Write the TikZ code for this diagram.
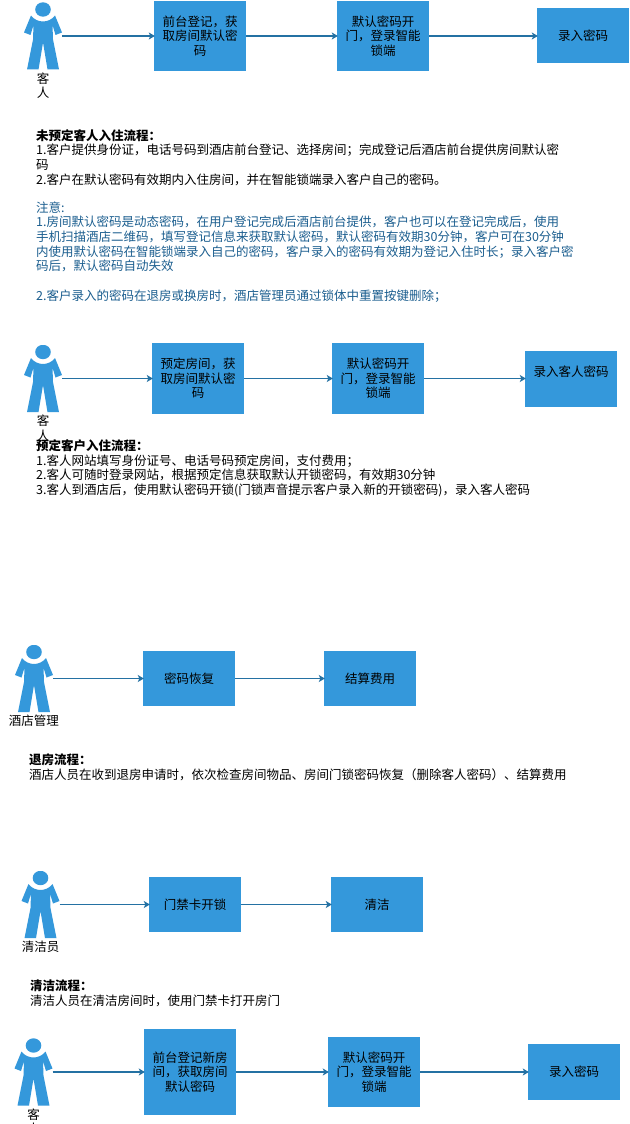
\documentclass[tikz,border=0pt]{standalone}
\usepackage{fontspec}
\setmainfont{Noto Sans CJK SC}
\usetikzlibrary{positioning,arrows.meta}
\definecolor{boxblue}{HTML}{3498DB}
\definecolor{linkblue}{HTML}{2471A3}
\definecolor{noteblue}{HTML}{1B5E8F}
\tikzset{
	flowbox/.style={fill=boxblue,inner sep=0pt,minimum width=92pt,align=center},
	flowlink/.style={-{Stealth[length=6pt,width=7pt,inset=1.5pt]},linkblue,line width=1.1pt,shorten >=-1pt},
	actor/.style={inner sep=0pt,minimum width=38pt,minimum height=67pt,path picture={
		\fill[boxblue] (0,-26.5) ellipse (7.8 and 7.2);
		\fill[boxblue] (-12,-20.5) .. controls (-6,-12.5) and (6,-12.5) .. (12,-20.5)
			-- (19,-3.5) -- (12.5,-1) -- (9.5,-11) -- (10,3.5) -- (16,33.5) -- (4.5,33.5) -- (0,6.5) -- (-4.5,33.5)
			-- (-16,33.5) -- (-10,3.5) -- (-9.5,-11) -- (-12.5,-1) -- (-19,-3.5) -- cycle;
	}},
	actorname/.style={inner sep=0pt,align=center},
	notes/.style={anchor=north west,inner sep=0pt,align=left}
}
\begin{document}
\begin{tikzpicture}[x=1pt,y=-1pt,font=\fontsize{12.5}{14.67}\selectfont]
	\clip (0,0) rectangle (629,1124);
	\fill[white] (0,0) rectangle (629,1124);
	% actors
	\foreach \n/\x/\y/\t in {a1/43/36/{客\\人},a2/43/378.5/{客\\人},a3/34/678.5/酒店管理,a4/40.5/904.5/清洁员,a5/33.5/1072/{客\\人}}{
		\node[actor] (\n) at (\x,\y) {};
		\node[actorname,below=2.5pt of \n] (\n t) {\t};
	}
	% boxes
	\foreach \n/\x/\y/\h/\t in {
		b11/200/36/70/{前台登记，获\\取房间默认密\\码},
		b12/383/36/70/{默认密码开\\门，登录智能\\锁端},
		b13/583/36/55/录入密码,
		b21/198/378.5/71/{预定房间，获\\取房间默认密\\码},
		b22/378/378.5/71/{默认密码开\\门，登录智能\\锁端},
		b23/571/378.5/56/{录入客人密码\\\mbox{}},
		b31/189/678.5/55/密码恢复,
		b32/370/678.5/55/结算费用,
		b41/195/904.5/55/门禁卡开锁,
		b42/377/904.5/55/清洁,
		b51/190/1072/86/{前台登记新房\\间，获取房间\\默认密码},
		b52/374/1072/70/{默认密码开\\门，登录智能\\锁端},
		b53/574/1072/56/录入密码}
		\node[flowbox,minimum height=\h pt] (\n) at (\x,\y) {\t};
	% links
	\foreach \p/\q in {a1/b11,b11/b12,b12/b13,a2/b21,b21/b22,b22/b23,a3/b31,b31/b32,a4/b41,b41/b42,a5/b51,b51/b52,b52/b53}
		\draw[flowlink] (\p) -- (\q);
	% notes
	\node[notes] (n1) at (36,129) {\textbf{未预定客人入住流程：}\\
		1.客户提供身份证，电话号码到酒店前台登记、选择房间；完成登记后酒店前台提供房间默认密\\
		码\\
		2.客户在默认密码有效期内入住房间，并在智能锁端录入客户自己的密码。};
	\node[notes,noteblue] (n2) at (36,201.5) {注意:\\
		1.房间默认密码是动态密码，在用户登记完成后酒店前台提供，客户也可以在登记完成后，使用\\
		手机扫描酒店二维码，填写登记信息来获取默认密码，默认密码有效期30分钟，客户可在30分钟\\
		内使用默认密码在智能锁端录入自己的密码，客户录入的密码有效期为登记入住时长；录入客户密\\
		码后，默认密码自动失效\\
		\mbox{}\\
		2.客户录入的密码在退房或换房时，酒店管理员通过锁体中重置按键删除；};
	\node[notes] (n3) at (36,439.5) {\textbf{预定客户入住流程：}\\
		1.客人网站填写身份证号、电话号码预定房间，支付费用；\\
		2.客人可随时登录网站，根据预定信息获取默认开锁密码，有效期30分钟\\
		3.客人到酒店后，使用默认密码开锁(门锁声音提示客户录入新的开锁密码)，录入客人密码};
	\node[notes] (n4) at (29,754) {\textbf{退房流程：}\\
		酒店人员在收到退房申请时，依次检查房间物品、房间门锁密码恢复（删除客人密码）、结算费用};
	\node[notes] (n5) at (30,980) {\textbf{清洁流程：}\\
		清洁人员在清洁房间时，使用门禁卡打开房门};
\end{tikzpicture}
\end{document}
